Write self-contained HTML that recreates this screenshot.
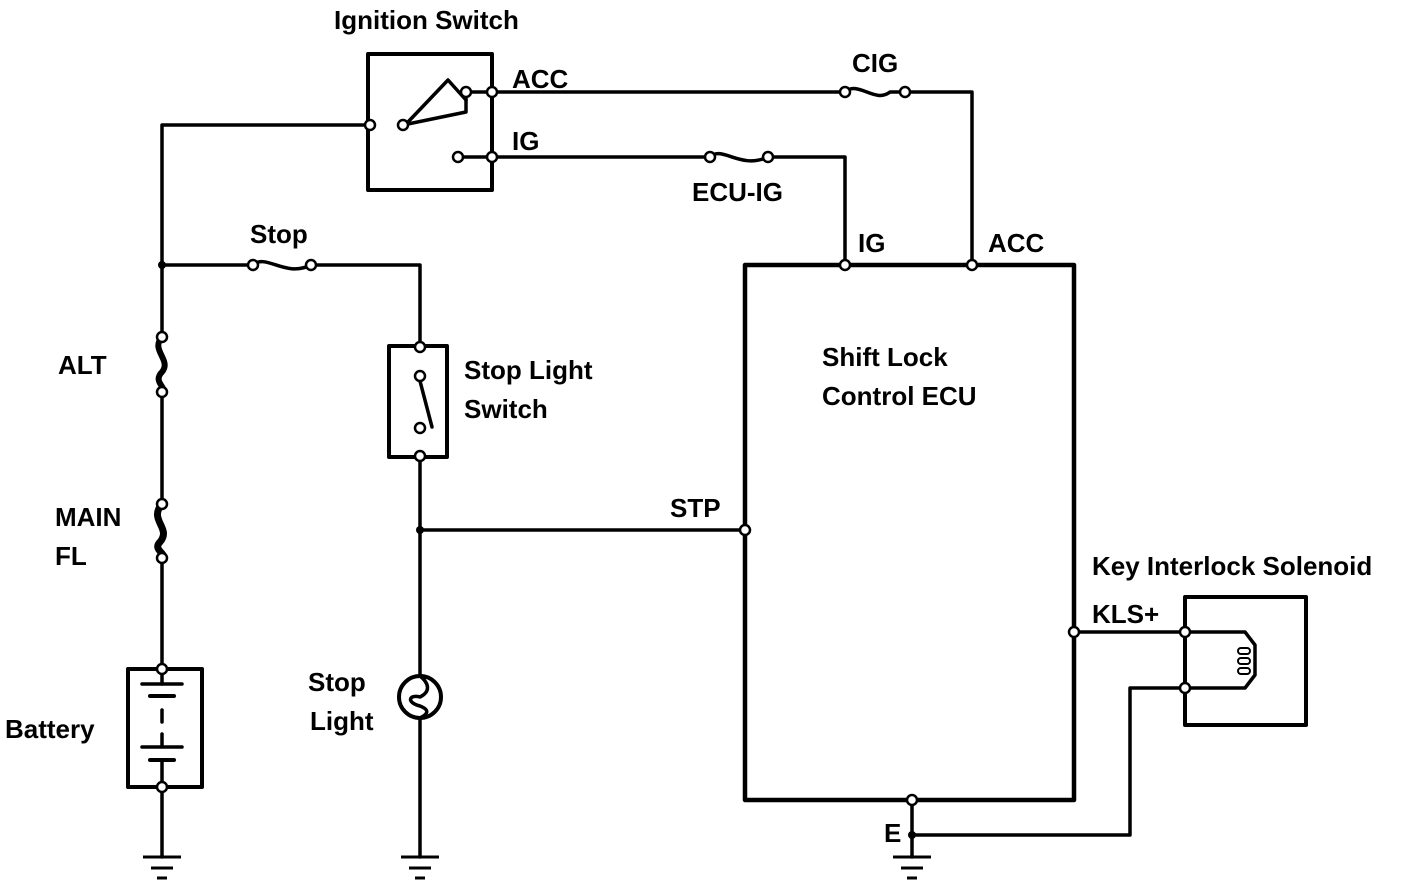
<!DOCTYPE html>
<html><head><style>body{margin:0;background:#fff}svg{display:block}text{font-family:"Liberation Sans",sans-serif;font-size:26px;font-weight:bold;fill:#000}</style></head><body>
<svg width="1424" height="890" viewBox="0 0 1424 890" xmlns="http://www.w3.org/2000/svg">
<g fill="none" stroke="#000" stroke-width="3.5" stroke-linejoin="round" stroke-linecap="round">
<polyline points="370,125 162,125 162,337"/>
<line x1="162" y1="392" x2="162" y2="504"/>
<line x1="162" y1="558" x2="162" y2="668"/>
<line x1="162" y1="788" x2="162" y2="857"/>
<path d="M162,337 C150,350 172,360 162,372 C152,382 168,388 162,392" stroke-width="6"/>
<path d="M162,504 C148,520 172,528 160,542 C152,550 168,554 162,558" stroke-width="7"/>
<rect x="128" y="669" width="74" height="118" stroke-width="4"/>
<line x1="162" y1="669" x2="162" y2="684"/><line x1="142" y1="684" x2="182" y2="684"/>
<line x1="150" y1="696" x2="174" y2="696" stroke-width="4"/>
<line x1="162" y1="710" x2="162" y2="722"/><line x1="162" y1="734" x2="162" y2="745"/>
<line x1="142" y1="747" x2="182" y2="747"/><line x1="150" y1="760" x2="174" y2="760" stroke-width="4"/>
<line x1="162" y1="760" x2="162" y2="787"/>
<rect x="368" y="54" width="124" height="136" stroke-width="4"/>
<polyline points="403,125 466,112 466,92"/>
<polyline points="408,122 448,80 466,100"/>
<line x1="466" y1="92" x2="492" y2="92"/>
<line x1="458" y1="157" x2="492" y2="157"/>
<polyline points="492,92 845,92"/><path d="M845,92 C858,80 875,104 890,92 L905,92"/>
<polyline points="905,92 972,92 972,265"/>
<polyline points="492,157 710,157"/><path d="M710,157 C722,145 740,170 768,157"/>
<polyline points="768,157 845,157 845,265"/>
<polyline points="162,265 253,265"/><path d="M253,265 C266,253 285,278 311,265"/>
<polyline points="311,265 420,265 420,347"/>
<rect x="389" y="346" width="58" height="111" stroke-width="4"/>
<line x1="420" y1="381" x2="432" y2="427"/>
<line x1="420" y1="457" x2="420" y2="675"/>
<line x1="420" y1="530" x2="745" y2="530"/>
<circle cx="420" cy="697" r="21" stroke-width="4"/>
<path d="M420,676 C430,684 430,692 420,697 C410,694 405,702 420,706 C430,710 428,714 420,718"/>
<line x1="420" y1="718" x2="420" y2="857"/>
<rect x="745" y="265" width="329" height="535" stroke-width="4.5"/>
<polyline points="912,800 912,857"/>
<polyline points="912,835 1130,835 1130,688 1185,688"/>
<line x1="1074" y1="632" x2="1185" y2="632"/>
<rect x="1185" y="597" width="121" height="128" stroke-width="4"/>
<line x1="1185" y1="632" x2="1185" y2="688"/>
<polyline points="1185,632 1245,632 1255,645 1255,675 1245,688 1185,688"/>
</g>
<g fill="#000" stroke="#000" stroke-width="2">
<rect x="1238" y="648" width="12" height="6" rx="3" fill="#fff"/><rect x="1238" y="658" width="12" height="6" rx="3" fill="#fff"/><rect x="1238" y="668" width="12" height="6" rx="3" fill="#fff"/>
</g>
<g stroke="#000" stroke-width="3">
<line x1="143" y1="857" x2="181" y2="857"/><line x1="151" y1="868" x2="173" y2="868"/><line x1="157" y1="878" x2="167" y2="878"/>
<line x1="401" y1="857" x2="439" y2="857"/><line x1="409" y1="868" x2="431" y2="868"/><line x1="415" y1="878" x2="425" y2="878"/>
<line x1="893" y1="857" x2="931" y2="857"/><line x1="901" y1="868" x2="923" y2="868"/><line x1="907" y1="878" x2="917" y2="878"/>
</g>
<g fill="#000"><circle cx="162" cy="265" r="4"/><circle cx="420" cy="530" r="4"/><circle cx="912" cy="835" r="4"/></g>
<g fill="#fff" stroke="#000" stroke-width="2.5">
<circle cx="370" cy="125" r="5"/><circle cx="403" cy="125" r="5"/><circle cx="466" cy="92" r="5"/><circle cx="492" cy="92" r="5"/>
<circle cx="458" cy="157" r="5"/><circle cx="492" cy="157" r="5"/>
<circle cx="845" cy="92" r="5"/><circle cx="905" cy="92" r="5"/><circle cx="710" cy="157" r="5"/><circle cx="768" cy="157" r="5"/>
<circle cx="845" cy="265" r="5"/><circle cx="972" cy="265" r="5"/>
<circle cx="253" cy="265" r="5"/><circle cx="311" cy="265" r="5"/>
<circle cx="420" cy="347" r="5"/><circle cx="420" cy="376" r="5"/><circle cx="420" cy="428" r="5"/><circle cx="420" cy="456" r="5"/>
<circle cx="162" cy="337" r="5"/><circle cx="162" cy="392" r="5"/><circle cx="162" cy="504" r="5"/><circle cx="162" cy="558" r="5"/>
<circle cx="162" cy="669" r="5"/><circle cx="162" cy="787" r="5"/>
<circle cx="745" cy="530" r="5"/><circle cx="1074" cy="632" r="5"/><circle cx="912" cy="800" r="5"/>
<circle cx="1185" cy="632" r="5"/><circle cx="1185" cy="688" r="5"/>
</g>
<text x="334" y="29">Ignition Switch</text>
<text x="512" y="88">ACC</text><text x="512" y="150">IG</text>
<text x="852" y="72">CIG</text><text x="692" y="201">ECU-IG</text>
<text x="858" y="252">IG</text><text x="988" y="252">ACC</text>
<text x="250" y="243">Stop</text>
<text x="58" y="374">ALT</text>
<text x="55" y="526">MAIN</text><text x="55" y="565">FL</text>
<text x="5" y="738">Battery</text>
<text x="464" y="379">Stop Light</text><text x="464" y="418">Switch</text>
<text x="308" y="691">Stop</text><text x="310" y="730">Light</text>
<text x="822" y="366">Shift Lock</text><text x="822" y="405">Control ECU</text>
<text x="670" y="517">STP</text>
<text x="1092" y="575">Key Interlock Solenoid</text>
<text x="1092" y="623">KLS+</text>
<text x="884" y="842">E</text>
</svg>
</body></html>
